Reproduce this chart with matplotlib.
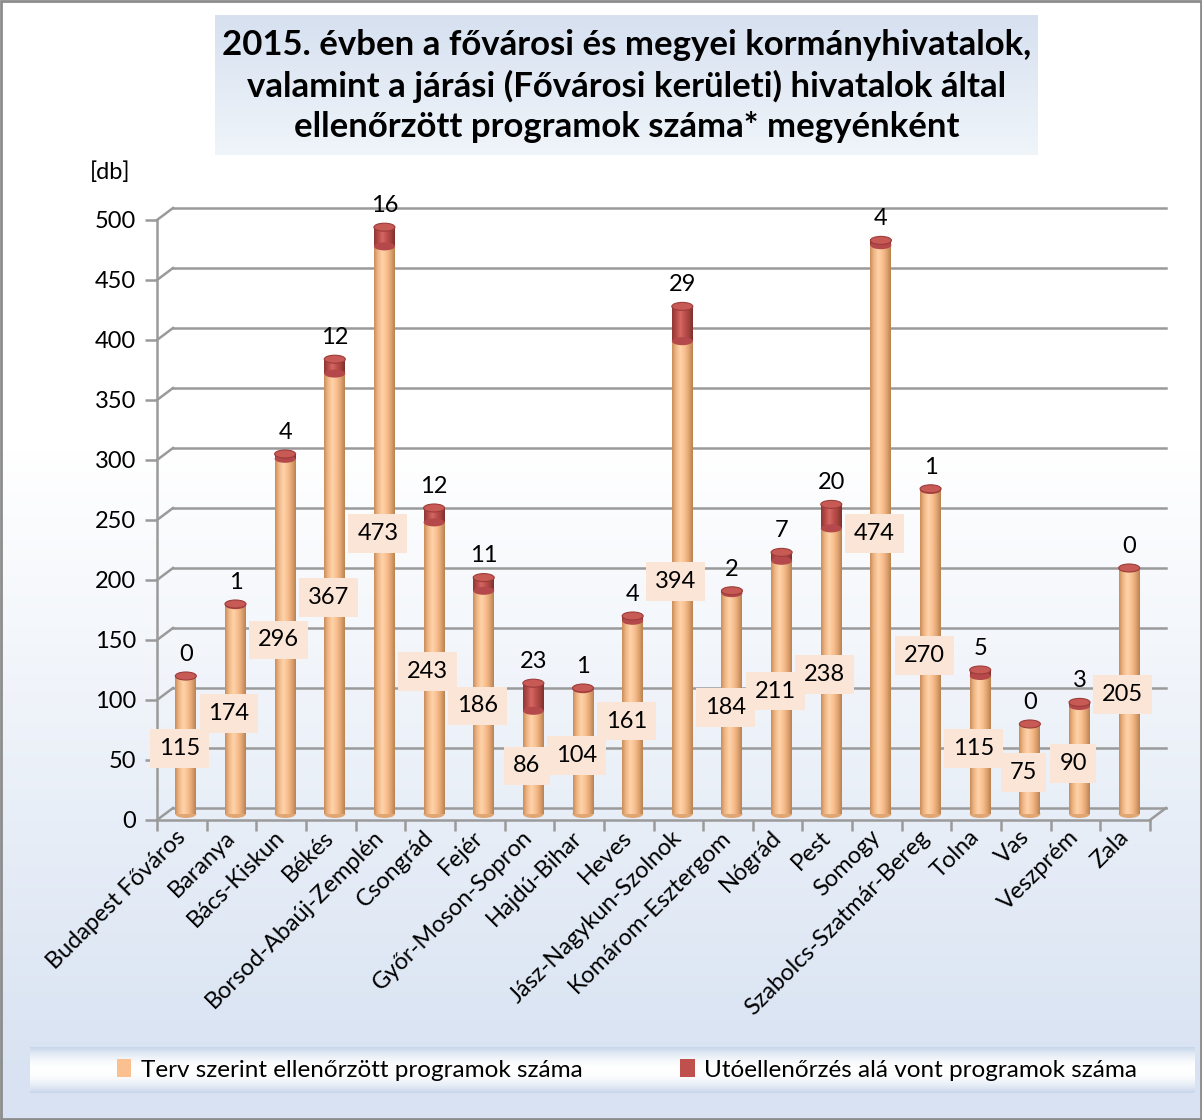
import numpy as np
import matplotlib
matplotlib.use('Agg')
import matplotlib.pyplot as plt
from matplotlib.patches import Rectangle, Ellipse, Patch
from matplotlib.colors import LinearSegmentedColormap

plt.rcParams['font.family'] = ['Lato', 'DejaVu Sans']

# data
counties = ['Budapest Főváros', 'Baranya', 'Bács-Kiskun', 'Békés', 'Borsod-Abaúj-Zemplén',
            'Csongrád', 'Fejér', 'Győr-Moson-Sopron', 'Hajdú-Bihar', 'Heves',
            'Jász-Nagykun-Szolnok', 'Komárom-Esztergom', 'Nógrád', 'Pest', 'Somogy',
            'Szabolcs-Szatmár-Bereg', 'Tolna', 'Vas', 'Veszprém', 'Zala']
planned = [115, 174, 296, 367, 473, 243, 186, 86, 104, 161, 394, 184, 211, 238, 474, 270, 115, 75, 90, 205]
followup = [0, 1, 4, 12, 16, 12, 11, 23, 1, 4, 29, 2, 7, 20, 4, 1, 5, 0, 3, 0]
yticks = list(range(0, 501, 50))
series_names = ['Terv szerint ellenőrzött programok száma', 'Utóellenőrzés alá vont programok száma']
title = ('2015. évben a fővárosi és megyei kormányhivatalok,\n'
         'valamint a járási (Fővárosi kerületi) hivatalok által\n'
         'ellenőrzött programok száma* megyénként')

W, H, DPI = 1202, 1120, 100
FS = 17
fig = plt.figure(figsize=(W / DPI, H / DPI), dpi=DPI)

# background in pixel coords
bg = fig.add_axes([0, 0, 1, 1], zorder=-10)
bg.axis('off')
t = np.clip((np.linspace(0, 1, 256) - 0.4) / 0.55, 0, 1)
top_c = np.array([1.0, 1.0, 1.0])
bot_c = np.array([0.85, 0.89, 0.95])
grad = (top_c[None, :] * (1 - t[:, None]) + bot_c[None, :] * t[:, None])[:, None, :]
bg.imshow(grad, extent=[0, W, H, 0], aspect='auto')

# title box
tb = np.linspace(0, 1, 64)
tgrad = (np.array([0.84, 0.88, 0.94])[None, :] * (1 - tb[:, None]) +
         np.array([0.94, 0.96, 0.98])[None, :] * tb[:, None])[:, None, :]
bg.imshow(tgrad, extent=[215, 1038, 155, 15], aspect='auto')

# legend box
lb = np.abs(np.linspace(-1, 1, 64)) ** 2
lgrad = (np.array([1.0, 1.0, 1.0])[None, :] * (1 - lb[:, None]) +
         np.array([0.78, 0.84, 0.92])[None, :] * lb[:, None])[:, None, :]
bg.imshow(lgrad, extent=[30, 1195, 1093, 1047], aspect='auto')
bg.set_xlim(0, W)
bg.set_ylim(H, 0)
bg.add_patch(Rectangle((1, 1), W - 2, H - 2, fill=False, edgecolor='#8c8c8c', lw=2))

fig.text(627 / W, 1 - 86 / H, title, ha='center', va='center', fontsize=25,
         fontweight='bold', linespacing=1.3)
fig.text(110 / W, 1 - 172 / H, '[db]', ha='center', va='center', fontsize=FS)

# main axes (front plane)
ax = fig.add_axes([157 / W, 1 - 820 / H, 993 / W, 600 / H])
ax.set_xlim(0, 20)
ax.set_ylim(0, 500)
ax.patch.set_alpha(0)
pxx = 993 / 20.0
pxy = 600 / 500.0
DX, DY = 16 / pxx, 12 / pxy      # depth of back wall
BX, BY = 4 / pxx, 6 / pxy        # bar position in depth
grid_c = '#9a9a9a'

for y in yticks:
    ax.plot([DX, 20 + DX], [y + DY, y + DY], color=grid_c, lw=1.8, clip_on=False, zorder=1)
    ax.plot([0, DX], [y, y + DY], color=grid_c, lw=1.8, clip_on=False, zorder=1)
ax.plot([20, 20 + DX], [0, DY], color=grid_c, lw=1.8, clip_on=False, zorder=1)

for s in ['top', 'right']:
    ax.spines[s].set_visible(False)
for s in ['left', 'bottom']:
    ax.spines[s].set_color(grid_c)
    ax.spines[s].set_linewidth(1.8)
ax.set_yticks(yticks)
ax.tick_params(axis='y', length=9, width=1.8, color=grid_c, labelsize=FS, pad=6)
ax.set_xticks(np.arange(21))
ax.set_xticklabels([])
ax.tick_params(axis='x', which='major', length=8, width=1.8, color=grid_c)
ax.set_xticks(np.arange(20) + 0.5, minor=True)
ax.set_xticklabels(counties, minor=True, rotation=45, ha='right', va='center',
                   rotation_mode='anchor', fontsize=FS)
ax.tick_params(axis='x', which='minor', length=0, pad=10)

orange_cm = LinearSegmentedColormap.from_list('o', ['#c98e5c', '#f3b987', '#fdd3aa', '#fac090', '#e2a673', '#b98252'])
red_cm = LinearSegmentedColormap.from_list('r', ['#8e3734', '#b84a47', '#d36865', '#c0504d', '#a5433f', '#7e302d'])
hgrad = np.linspace(0, 1, 64)[None, :]
bw = 21 / pxx
cap_h = 8 / pxy

for i in range(len(counties)):
    xc = i + 0.5 + BX
    x0 = xc - bw / 2
    p = planned[i]
    f = followup[i]
    # bottom curvature
    ax.add_patch(Ellipse((xc, BY), bw, cap_h, facecolor='#e0a674', edgecolor='none', zorder=2, clip_on=False))
    # planned segment
    r1 = Rectangle((x0, BY), bw, p, facecolor='none', edgecolor='none')
    ax.add_patch(r1)
    im = ax.imshow(hgrad, cmap=orange_cm, extent=[x0, x0 + bw, BY, BY + p], aspect='auto', zorder=3)
    im.set_clip_path(r1)
    # follow-up segment
    if f > 0:
        r2 = Rectangle((x0, BY + p), bw, f, facecolor='none', edgecolor='none')
        ax.add_patch(r2)
        im2 = ax.imshow(hgrad, cmap=red_cm, extent=[x0, x0 + bw, BY + p, BY + p + f], aspect='auto', zorder=4)
        im2.set_clip_path(r2)
        ax.add_patch(Ellipse((xc, BY + p), bw, cap_h, facecolor='#b4484a', edgecolor='none', zorder=4))
    # top cap
    ax.add_patch(Ellipse((xc, BY + p + f), bw, cap_h, facecolor='#c85a56', edgecolor='#9c3c39',
                         lw=0.8, zorder=5, clip_on=False))
    # labels
    ax.text(i + 0.5 - 0.05, p / 2 + 2, str(p), ha='center', va='center', fontsize=FS, zorder=6,
            bbox=dict(boxstyle='square,pad=0.38', facecolor='#fbe5d6', edgecolor='none'))
    ax.annotate(str(f), (xc, BY + p + f), xytext=(0, 8), textcoords='offset points',
                ha='center', va='bottom', fontsize=FS, zorder=6, annotation_clip=False)
ax.set_xlim(0, 20)
ax.set_ylim(0, 500)

handles = [Patch(facecolor='#fac090'), Patch(facecolor='#c0504d')]
fig.legend(handles, series_names, loc='center', bbox_to_anchor=(627 / W, 1 - 1070 / H), ncol=2,
           frameon=False, fontsize=17.5, handlelength=0.6, handleheight=0.7, handletextpad=0.4,
           columnspacing=4)

fig.savefig('out.png', dpi=DPI)
